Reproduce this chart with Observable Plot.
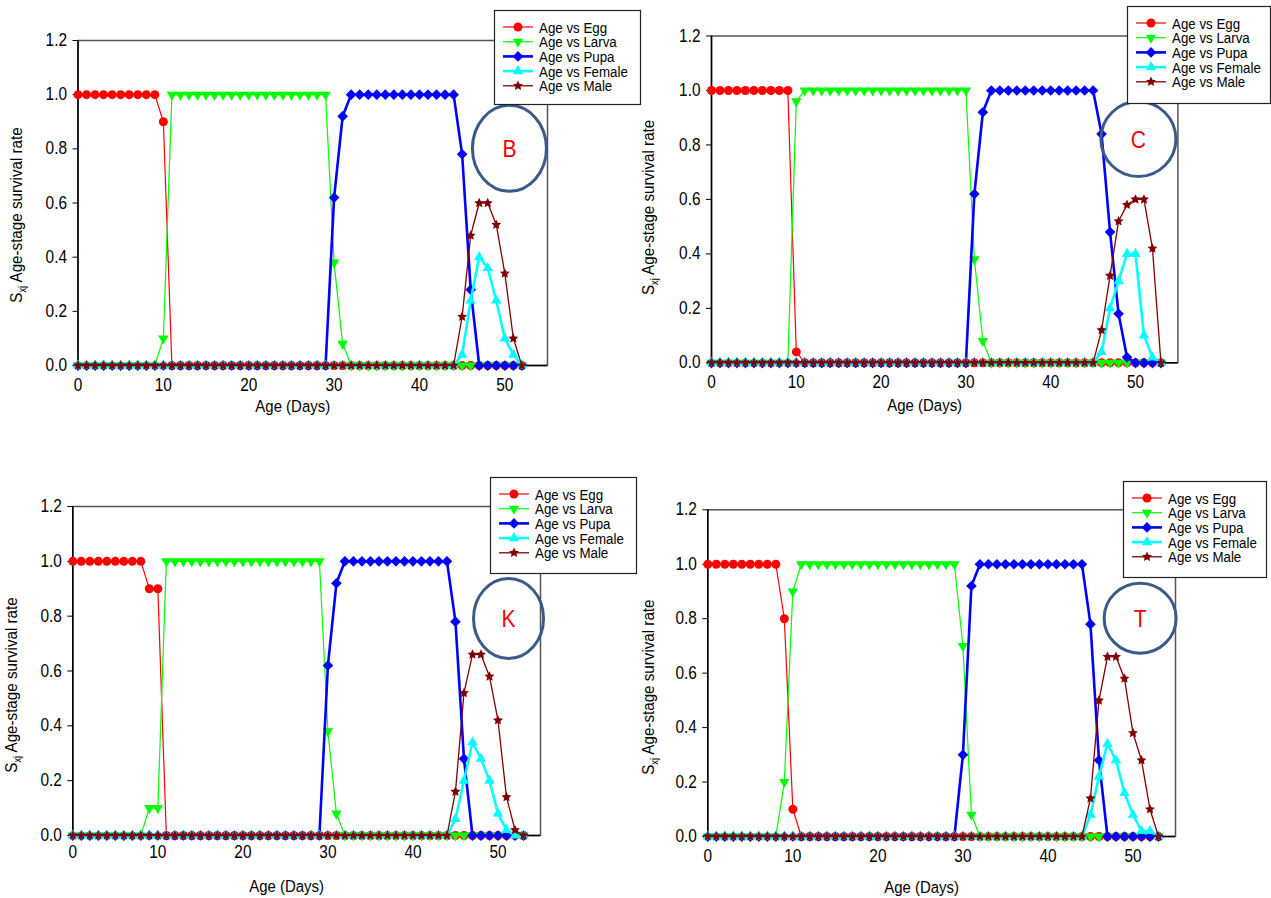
<!DOCTYPE html>
<html>
<head>
<meta charset="utf-8">
<script src="https://cdn.jsdelivr.net/npm/d3@7"></script>
<script src="https://cdn.jsdelivr.net/npm/@observablehq/plot@0.6"></script>
<style>
  body { margin: 0; background: #fff; }
  #root { position: relative; width: 1271px; height: 898px; overflow: hidden; background: #fff;
          font-family: "Liberation Sans", Arial, sans-serif; }
</style>
</head>
<body>
<div id="root"></div>
<script>
// ---------------- data ----------------
const days = [0,1,2,3,4,5,6,7,8,9,10,11,12,13,14,15,16,17,18,19,20,21,22,23,24,25,26,27,28,29,
              30,31,32,33,34,35,36,37,38,39,40,41,42,43,44,45,46,47,48,49,50,51,52,53];
const seriesNames = ["Egg", "Larva", "Pupa", "Female", "Male"];
const legendLabels = ["Age vs Egg", "Age vs Larva", "Age vs Pupa", "Age vs Female", "Age vs Male"];
const xTicks = [0, 10, 20, 30, 40, 50];
const yTicks = [0, 0.2, 0.4, 0.6, 0.8, 1.0, 1.2];
const xLabel = "Age (Days)";
const yLabelMain = "S";
const yLabelSub = "xj";
const yLabelRest = " Age-stage survival rate";
const panelLetters = ["B", "C", "K", "T"];

// Panel B (days 0-52)
const eggB = [1,1,1,1,1,1,1,1,1,1, 0.9,0,0,0,0,0,0,0,0,0, 0,0,0,0,0,0,0,0,0,0, 0,0,0,0,0,0,0,0,0,0, 0,0,0,0,0,0,0,0,0,0, 0,0,0];
const larvaB = [0,0,0,0,0,0,0,0,0,0, 0.1,1,1,1,1,1,1,1,1,1, 1,1,1,1,1,1,1,1,1,1, 0.38,0.08,0,0,0,0,0,0,0,0, 0,0,0,0,0,0,0,0,0,0, 0,0,0];
const pupaB = [0,0,0,0,0,0,0,0,0,0, 0,0,0,0,0,0,0,0,0,0, 0,0,0,0,0,0,0,0,0,0, 0.62,0.92,1,1,1,1,1,1,1,1, 1,1,1,1,1,0.78,0.28,0,0,0, 0,0,0];
const femaleB = [0,0,0,0,0,0,0,0,0,0, 0,0,0,0,0,0,0,0,0,0, 0,0,0,0,0,0,0,0,0,0, 0,0,0,0,0,0,0,0,0,0, 0,0,0,0,0,0.04,0.24,0.40,0.36,0.24, 0.10,0.04,0];
const maleB = [0,0,0,0,0,0,0,0,0,0, 0,0,0,0,0,0,0,0,0,0, 0,0,0,0,0,0,0,0,0,0, 0,0,0,0,0,0,0,0,0,0, 0,0,0,0,0,0.18,0.48,0.60,0.60,0.52, 0.34,0.10,0];

// Panel C (days 0-53)
const eggC = [1,1,1,1,1,1,1,1,1,1, 0.04,0,0,0,0,0,0,0,0,0, 0,0,0,0,0,0,0,0,0,0, 0,0,0,0,0,0,0,0,0,0, 0,0,0,0,0,0,0,0,0,0, 0,0,0,0];
const larvaC = [0,0,0,0,0,0,0,0,0,0, 0.96,1,1,1,1,1,1,1,1,1, 1,1,1,1,1,1,1,1,1,1, 1,0.38,0.08,0,0,0,0,0,0,0, 0,0,0,0,0,0,0,0,0,0, 0,0,0,0];
const pupaC = [0,0,0,0,0,0,0,0,0,0, 0,0,0,0,0,0,0,0,0,0, 0,0,0,0,0,0,0,0,0,0, 0,0.62,0.92,1,1,1,1,1,1,1, 1,1,1,1,1,1,0.84,0.48,0.18,0.02, 0,0,0,0];
const femaleC = [0,0,0,0,0,0,0,0,0,0, 0,0,0,0,0,0,0,0,0,0, 0,0,0,0,0,0,0,0,0,0, 0,0,0,0,0,0,0,0,0,0, 0,0,0,0,0,0,0.04,0.20,0.30,0.40, 0.40,0.10,0.02,0];
const maleC = [0,0,0,0,0,0,0,0,0,0, 0,0,0,0,0,0,0,0,0,0, 0,0,0,0,0,0,0,0,0,0, 0,0,0,0,0,0,0,0,0,0, 0,0,0,0,0,0,0.12,0.32,0.52,0.58, 0.60,0.60,0.42,0];

// Panel K (days 0-53)
const eggK = [1,1,1,1,1,1,1,1,1,0.9, 0.9,0,0,0,0,0,0,0,0,0, 0,0,0,0,0,0,0,0,0,0, 0,0,0,0,0,0,0,0,0,0, 0,0,0,0,0,0,0,0,0,0, 0,0,0,0];
const larvaK = [0,0,0,0,0,0,0,0,0,0.1, 0.1,1,1,1,1,1,1,1,1,1, 1,1,1,1,1,1,1,1,1,1, 0.38,0.08,0,0,0,0,0,0,0,0, 0,0,0,0,0,0,0,0,0,0, 0,0,0,0];
const pupaK = [0,0,0,0,0,0,0,0,0,0, 0,0,0,0,0,0,0,0,0,0, 0,0,0,0,0,0,0,0,0,0, 0.62,0.92,1,1,1,1,1,1,1,1, 1,1,1,1,1,0.78,0.28,0,0,0, 0,0,0,0];
const femaleK = [0,0,0,0,0,0,0,0,0,0, 0,0,0,0,0,0,0,0,0,0, 0,0,0,0,0,0,0,0,0,0, 0,0,0,0,0,0,0,0,0,0, 0,0,0,0,0,0.06,0.20,0.34,0.28,0.20, 0.08,0.02,0,0];
const maleK = [0,0,0,0,0,0,0,0,0,0, 0,0,0,0,0,0,0,0,0,0, 0,0,0,0,0,0,0,0,0,0, 0,0,0,0,0,0,0,0,0,0, 0,0,0,0,0,0.16,0.52,0.66,0.66,0.58, 0.42,0.14,0.02,0];

// Panel T (days 0-53)
const eggT = [1,1,1,1,1,1,1,1,1,0.8, 0.1,0,0,0,0,0,0,0,0,0, 0,0,0,0,0,0,0,0,0,0, 0,0,0,0,0,0,0,0,0,0, 0,0,0,0,0,0,0,0,0,0, 0,0,0,0];
const larvaT = [0,0,0,0,0,0,0,0,0,0.2, 0.9,1,1,1,1,1,1,1,1,1, 1,1,1,1,1,1,1,1,1,1, 0.7,0.08,0,0,0,0,0,0,0,0, 0,0,0,0,0,0,0,0,0,0, 0,0,0,0];
const pupaT = [0,0,0,0,0,0,0,0,0,0, 0,0,0,0,0,0,0,0,0,0, 0,0,0,0,0,0,0,0,0,0, 0.3,0.92,1,1,1,1,1,1,1,1, 1,1,1,1,1,0.78,0.28,0,0,0, 0,0,0,0];
const femaleT = [0,0,0,0,0,0,0,0,0,0, 0,0,0,0,0,0,0,0,0,0, 0,0,0,0,0,0,0,0,0,0, 0,0,0,0,0,0,0,0,0,0, 0,0,0,0,0,0.08,0.22,0.34,0.28,0.16, 0.08,0.02,0.02,0];
const maleT = [0,0,0,0,0,0,0,0,0,0, 0,0,0,0,0,0,0,0,0,0, 0,0,0,0,0,0,0,0,0,0, 0,0,0,0,0,0,0,0,0,0, 0,0,0,0,0,0.14,0.50,0.66,0.66,0.58, 0.38,0.28,0.10,0];

// ---------------- styles ----------------
const FONT = '"Liberation Sans", Arial, sans-serif';
const NARROW = 0.88;
const COLORS = ["#ff0000", "#00ff00", "#0000ff", "#00ffff", "#800000"];
const WIDTHS = [1.2, 1.2, 2.6, 2.6, 1.3];
const RADII = [4.5, 3.9, 4.8, 3.9, 3.8];
const triangleDown = {
  draw(ctx, size) {
    const y = Math.sqrt(size / (Math.sqrt(3) * 3));
    const x = Math.sqrt(3) * y;
    ctx.moveTo(0, 2 * y); ctx.lineTo(-x, -y); ctx.lineTo(x, -y); ctx.closePath();
  }
};
const chunkyStar = {
  draw(ctx, size) {
    const R = Math.sqrt(size) * 0.78, r = R * 0.48;
    for (let i = 0; i < 10; i++) {
      const a = -Math.PI / 2 + i * Math.PI / 5, rad = i % 2 ? r : R;
      const px = rad * Math.cos(a), py = rad * Math.sin(a);
      if (i === 0) ctx.moveTo(px, py); else ctx.lineTo(px, py);
    }
    ctx.closePath();
  }
};
const PLOT_SYMBOLS = ["circle", triangleDown, "diamond2", "triangle", chunkyStar];
const D3_SYMBOLS = [d3.symbolCircle, triangleDown, d3.symbolDiamond2, d3.symbolTriangle, chunkyStar];
const ANN_STROKE = "#3a5a8a";

const panelSeries = [
  [eggB, larvaB, pupaB, femaleB, maleB],
  [eggC, larvaC, pupaC, femaleC, maleC],
  [eggK, larvaK, pupaK, femaleK, maleK],
  [eggT, larvaT, pupaT, femaleT, maleT]
];
const layouts = [
  {left: 0,   top: 0,   width: 640, height: 420, mL: 77.5, mR: 93,   mT: 40,   mB: 55,   xPad: 8, xLab: 46, yLab: 68, yShift: 12,
   ann: [50.6, 0.80], rx: 37,   ry: 43,   legend: {left: 494,  top: 10,  w: 146, h: 94}},
  {left: 640, top: 0,   width: 631, height: 420, mL: 71,   mR: 93.6, mT: 35.5, mB: 57.7, xPad: 8, xLab: 48, yLab: 69, yShift: 8,
   ann: [50.4, 0.82], rx: 37.5, ry: 37.5, legend: {left: 1127, top: 6,   w: 143, h: 97}},
  {left: 0,   top: 450, width: 640, height: 448, mL: 72.3, mR: 100,  mT: 56,   mB: 63,   xPad: 5, xLab: 56, yLab: 68, yShift: 14,
   ann: [51.3, 0.79], rx: 35,   ry: 40,   legend: {left: 490,  top: 477, w: 146, h: 96}},
  {left: 640, top: 450, width: 631, height: 448, mL: 67.3, mR: 96,   mT: 59.3, mB: 62,   xPad: 8, xLab: 56, yLab: 66, yShift: 14,
   ann: [50.9, 0.80], rx: 36,   ry: 35,   legend: {left: 1123, top: 481, w: 143, h: 96}}
];

const root = document.getElementById("root");

function narrowText(t, k) {
  const tr = t.getAttribute("transform");
  if (tr) t.setAttribute("transform", tr + ` scale(${k},1)`);
  else {
    const x = +(t.getAttribute("x") || 0), y = t.getAttribute("y");
    if (y !== null && !/em/.test(y)) {
      t.setAttribute("transform", `translate(${x},${+y}) scale(${k},1)`);
      t.removeAttribute("x"); t.removeAttribute("y");
    } else {
      t.setAttribute("transform", `translate(${x},0) scale(${k},1)`);
      t.removeAttribute("x");
    }
  }
}

panelSeries.forEach((series, pi) => {
  const L = layouts[pi];
  const marks = [
    Plot.frame({stroke: "#555", strokeWidth: 1.5}),
    Plot.ruleX([0], {stroke: "#000", strokeWidth: 1.5}),
    Plot.ruleY([0], {stroke: "#000", strokeWidth: 1.5}),
    Plot.axisX({ticks: xTicks, tickSize: 5, tickPadding: L.xPad, tickFormat: d => String(d),
                label: xLabel, labelAnchor: "center", labelOffset: L.xLab}),
    Plot.axisY({ticks: yTicks, tickSize: 5, tickPadding: 6, tickFormat: d => d.toFixed(1),
                label: yLabelMain + yLabelSub + yLabelRest, labelAnchor: "center", labelOffset: L.yLab})
  ];
  seriesNames.forEach((name, s) => {
    const rows = series[s].map((v, i) => ({day: days[i], value: v, series: name}));
    marks.push(Plot.line(rows, {x: "day", y: "value", stroke: COLORS[s], strokeWidth: WIDTHS[s]}));
    marks.push(Plot.dot(rows, {x: "day", y: "value", fill: COLORS[s], stroke: "none",
                               symbol: PLOT_SYMBOLS[s], r: RADII[s]}));
  });
  const svg = Plot.plot({
    width: L.width, height: L.height,
    marginLeft: L.mL, marginRight: L.mR, marginTop: L.mT, marginBottom: L.mB,
    x: {domain: [0, 55]},
    y: {domain: [0, 1.2]},
    style: {fontFamily: FONT, fontSize: "17.5px", color: "#000", background: "transparent", overflow: "visible"},
    marks
  });
  svg.style.position = "absolute";
  svg.style.left = L.left + "px";
  svg.style.top = L.top + "px";
  svg.style.maxWidth = "none";
  root.appendChild(svg);

  // axis titles
  const xl = svg.querySelector('g[aria-label="x-axis label"] text');
  const yl = svg.querySelector('g[aria-label="y-axis label"] text');
  svg.querySelectorAll("text").forEach(t => { if (t !== yl) narrowText(t, NARROW); });
  if (xl) {
    xl.textContent = xLabel;
    xl.setAttribute("font-size", 17);
    xl.setAttribute("transform", "translate(-20,0) " + (xl.getAttribute("transform") || ""));
  }
  if (yl) {
    yl.textContent = "";
    const ys = d3.select(yl);
    yl.setAttribute("font-size", 16.5);
    ys.append("tspan").text(yLabelMain);
    ys.append("tspan").attr("font-size", 10).attr("dy", 4).text(yLabelSub);
    ys.append("tspan").attr("dy", -4).text(yLabelRest);
    yl.setAttribute("transform", `translate(0,${L.yShift}) ` + (yl.getAttribute("transform") || "") + " scale(0.92,1)");
  }

  // annotation ellipse with panel letter
  const sx = svg.scale("x"), sy = svg.scale("y");
  const cx = sx.apply(L.ann[0]), cy = sy.apply(L.ann[1]);
  const g = d3.select(svg).append("g");
  g.append("ellipse").attr("cx", cx).attr("cy", cy).attr("rx", L.rx).attr("ry", L.ry)
    .attr("fill", "none").attr("stroke", ANN_STROKE).attr("stroke-width", 3);
  g.append("text").attr("transform", `translate(${cx},${cy}) scale(${NARROW},1)`)
    .attr("text-anchor", "middle").attr("dy", "0.36em")
    .attr("font-family", FONT).attr("font-size", 24).attr("fill", "#ff0000")
    .text(panelLetters[pi]);
});

// legends (drawn on top)
layouts.forEach((L) => {
  const lg = L.legend;
  const svg = d3.select(root).append("svg")
    .style("position", "absolute").style("left", lg.left + "px").style("top", lg.top + "px")
    .style("overflow", "visible")
    .attr("width", lg.w + 1).attr("height", lg.h + 1);
  svg.append("rect").attr("x", 0.5).attr("y", 0.5).attr("width", lg.w).attr("height", lg.h)
    .attr("fill", "#fff").attr("stroke", "#222").attr("stroke-width", 1.2);
  legendLabels.forEach((lab, s) => {
    const y = 17 + 14.7 * s;
    svg.append("line").attr("x1", 9).attr("x2", 39).attr("y1", y).attr("y2", y)
      .attr("stroke", COLORS[s]).attr("stroke-width", WIDTHS[s]);
    svg.append("path").attr("d", d3.symbol(D3_SYMBOLS[s], Math.PI * RADII[s] * RADII[s])())
      .attr("transform", `translate(24,${y})`).attr("fill", COLORS[s]);
    svg.append("text").attr("transform", `translate(45,${y}) scale(0.86,1)`)
      .attr("dy", "0.36em").attr("font-family", FONT).attr("font-size", 15.5).attr("fill", "#000")
      .text(lab);
  });
});
</script>
</body>
</html>
